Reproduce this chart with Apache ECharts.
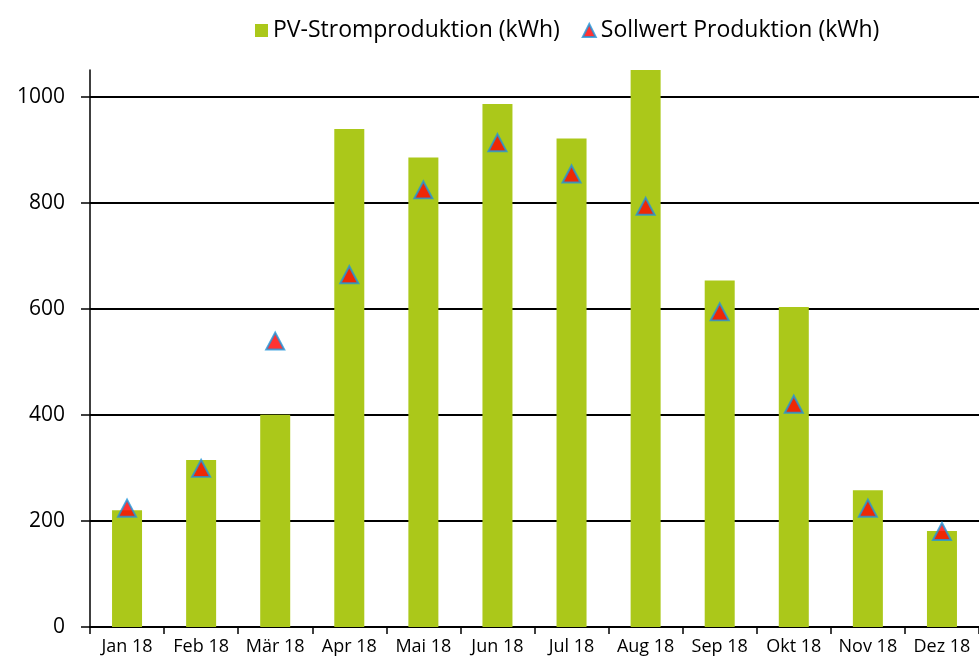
<!DOCTYPE html>
<html>
<head>
<meta charset="utf-8">
<script src="https://cdn.jsdelivr.net/npm/echarts@6/dist/echarts.min.js"></script>
<style>html,body{margin:0;padding:0;background:#fff}#c{width:979px;height:666px}</style>
</head>
<body>
<div id="c"></div>
<script>
const categories = ['Jan 18','Feb 18','Mär 18','Apr 18','Mai 18','Jun 18','Jul 18','Aug 18','Sep 18','Okt 18','Nov 18','Dez 18'];
const pvProduction = [220, 315, 400, 939, 885, 986, 921, 1050, 653, 603, 258, 181];
const targetProduction = [224, 299, 539, 664, 824, 913, 854, 793, 594, 420, 224, 180];
const yTicks = [0, 200, 400, 600, 800, 1000];
const seriesNames = ['PV-Stromproduktion (kWh)', 'Sollwert Produktion (kWh)'];

const FONT = 'Open Sans';
const chart = echarts.init(document.getElementById('c'), null, {renderer: 'canvas'});
chart.setOption({
  animation: false,
  textStyle: {fontFamily: FONT, color: '#000'},
  legend: {
    top: 14, left: 250, itemWidth: 13, itemHeight: 13, itemGap: 22,
    textStyle: {fontFamily: FONT, fontSize: 23, color: '#000'},
    data: [{name: seriesNames[0], icon: 'rect'}, {name: seriesNames[1], icon: 'triangle'}]
  },
  grid: {left: 90, right: -7, top: 70, bottom: 39, containLabel: false},
  xAxis: {
    type: 'category', data: categories, boundaryGap: true,
    axisLine: {lineStyle: {color: '#000', width: 2}},
    axisTick: {show: true, alignWithLabel: false, length: 7, lineStyle: {color: '#000', width: 1.5}},
    axisLabel: {fontFamily: FONT, fontSize: 18, color: '#000', margin: 11, interval: 0}
  },
  yAxis: {
    type: 'value', min: 0, max: 1050, interval: 200,
    axisLine: {show: true, lineStyle: {color: '#000', width: 1.5}},
    axisTick: {show: true, length: 9, lineStyle: {color: '#000', width: 1.5}, customValues: yTicks},
    axisLabel: {fontFamily: FONT, fontSize: 21, color: '#000', margin: 25, customValues: yTicks,
      formatter: function (v) { return String(v); }},
    splitLine: {show: true, lineStyle: {color: '#000', width: 2}}
  },
  series: [
    {
      name: seriesNames[0], type: 'bar', data: pvProduction, barWidth: 30,
      itemStyle: {color: '#ABC81A'}, z: 3
    },
    {
      name: seriesNames[1], type: 'scatter', data: targetProduction,
      symbol: 'triangle', symbolSize: [18, 17],
      itemStyle: {color: '#FF0000', borderColor: '#2196DC', borderWidth: 2}, z: 4
    }
  ]
});
</script>
</body>
</html>
